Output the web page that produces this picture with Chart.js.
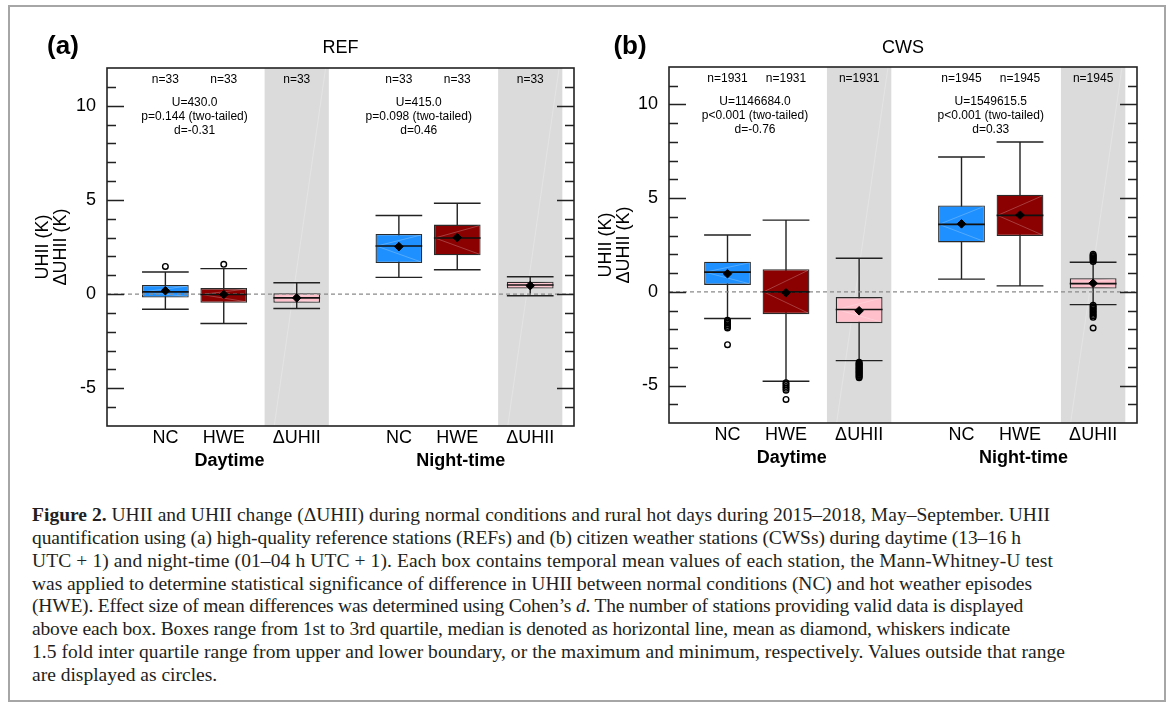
<!DOCTYPE html>
<html>
<head>
<meta charset="utf-8">
<script src="https://cdn.jsdelivr.net/npm/chart.js@4.4.1/dist/chart.umd.min.js"></script>
<style>
  html, body { margin: 0; padding: 0; background: #fff; }
  body { width: 1171px; height: 710px; position: relative; overflow: hidden; }
  #frame { position: absolute; left: 8px; top: 5px; width: 1158px; height: 697px; border: 2px solid #a6a6a6; box-sizing: border-box; pointer-events: none; }
  canvas { position: absolute; top: 0; }
  #ca { left: 0; }
  #cb { left: 585px; }
  #caption { position: absolute; left: 32px; top: 504px; font-family: "Liberation Serif", "Times New Roman", serif; font-size: 19.5px; line-height: 22.85px; color: #231f20; white-space: nowrap; }
  #caption span { display: block; width: max-content; }
</style>
</head>
<body>
<canvas id="ca" width="590" height="480"></canvas>
<canvas id="cb" width="586" height="480"></canvas>
<div id="caption">
  <span data-w="1018"><b>Figure 2.</b> UHII and UHII change (ΔUHII) during normal conditions and rural hot days during 2015–2018, May–September. UHII</span>
  <span data-w="989">quantification using (a) high-quality reference stations (REFs) and (b) citizen weather stations (CWSs) during daytime (13–16 h</span>
  <span data-w="1021">UTC + 1) and night-time (01–04 h UTC + 1). Each box contains temporal mean values of each station, the Mann-Whitney-U test</span>
  <span data-w="1000">was applied to determine statistical significance of difference in UHII between normal conditions (NC) and hot weather episodes</span>
  <span data-w="991">(HWE). Effect size of mean differences was determined using Cohen’s <i>d</i>. The number of stations providing valid data is displayed</span>
  <span data-w="978">above each box. Boxes range from 1st to 3rd quartile, median is denoted as horizontal line, mean as diamond, whiskers indicate</span>
  <span data-w="1033">1.5 fold inter quartile range from upper and lower boundary, or the maximum and minimum, respectively. Values outside that range</span>
  <span>are displayed as circles.</span>
</div>
<div id="frame"></div>
<script>
// box positions on the x axis (0..8) and their labels
const positions  = [1, 2, 3.25, 5, 6, 7.25];
const categories = ['NC', 'HWE', 'ΔUHII', 'NC', 'HWE', 'ΔUHII'];
const boxColors  = ['#1e90ff', '#8b0000', '#ffc0cb', '#1e90ff', '#8b0000', '#ffc0cb'];
const bands      = [[2.7, 3.8], [6.7, 7.8]];
const groupNames = ['Daytime', 'Night-time'];
const groupX     = [2.1, 6.06];

// (a) REF
const refQ1     = [-0.18, -0.46, -0.46, 1.65, 2.06, 0.30];
const refQ3     = [0.48, 0.32, 0.05, 3.19, 3.69, 0.66];
const refMedian = [0.12, -0.02, -0.20, 2.55, 2.98, 0.48];
const refMean   = [0.18, -0.02, -0.20, 2.52, 3.00, 0.45];
const refLo     = [-0.80, -1.56, -0.76, 0.89, 1.29, -0.09];
const refHi     = [1.17, 1.35, 0.60, 4.17, 4.82, 0.92];
const refOutX   = [1, 2];
const refOutY   = [1.47, 1.58];
const refN      = ['n=33', 'n=33', 'n=33', 'n=33', 'n=33', 'n=33'];
const refStats  = [['U=430.0', 'p=0.144 (two-tailed)', 'd=-0.31'], ['U=415.0', 'p=0.098 (two-tailed)', 'd=0.46']];
const refStatsX = [1.5, 5.34];

// (b) CWS
const cwsQ1     = [0.37, -1.19, -1.67, 2.64, 2.98, 0.18];
const cwsQ3     = [1.61, 1.21, -0.28, 4.61, 5.18, 0.73];
const cwsMedian = [1.05, 0.00, -0.94, 3.60, 4.08, 0.44];
const cwsMean   = [0.97, -0.05, -1.01, 3.63, 4.10, 0.46];
const cwsLo     = [-1.42, -4.77, -3.67, 0.68, 0.32, -0.68];
const cwsHi     = [3.03, 3.83, 1.79, 7.20, 8.00, 1.58];
const cwsOutX   = [1, 1, 1, 1, 1, 1, 1,
                   2, 2, 2, 2, 2, 2,
                   3.25, 3.25, 3.25, 3.25, 3.25, 3.25, 3.25, 3.25, 3.25, 3.25, 3.25, 3.25, 3.25, 3.25, 3.25, 3.25, 3.25,
                   7.25, 7.25, 7.25, 7.25, 7.25, 7.25, 7.25,
                   7.25, 7.25, 7.25, 7.25, 7.25, 7.25, 7.25, 7.25, 7.25, 7.25];
const cwsOutY   = [-1.52, -1.60, -1.68, -1.76, -1.85, -1.93, -2.82,
                   -4.85, -4.95, -5.05, -5.15, -5.25, -5.74,
                   -3.76, -3.81, -3.86, -3.91, -3.96, -4.01, -4.06, -4.11, -4.16, -4.21, -4.26, -4.31, -4.36, -4.42, -4.47, -4.53, -4.59,
                   1.62, 1.70, 1.76, 1.82, 1.88, 1.94, 2.01,
                   -0.72, -0.80, -0.88, -0.96, -1.04, -1.12, -1.20, -1.28, -1.36, -1.93];
const cwsN      = ['n=1931', 'n=1931', 'n=1931', 'n=1945', 'n=1945', 'n=1945'];
const cwsStats  = [['U=1146684.0', 'p<0.001 (two-tailed)', 'd=-0.76'], ['U=1549615.5', 'p<0.001 (two-tailed)', 'd=0.33']];
const cwsStatsX = [1.47, 5.5];

const yMin = -7, yMax = 12;
const SANS = '"Liberation Sans", Arial, Helvetica, sans-serif';

function makePanel(id, p) {
  const parts = {
    id: 'boxParts',
    beforeDatasetsDraw(chart) {
      const { ctx, chartArea: a, scales: { x, y } } = chart;
      ctx.save();
      bands.forEach(b => {
        const x0 = x.getPixelForValue(b[0]), x1 = x.getPixelForValue(b[1]);
        ctx.fillStyle = '#dbdbdb';
        ctx.fillRect(x0, a.top, x1 - x0, a.bottom - a.top);
        ctx.strokeStyle = 'rgba(255,255,255,0.3)';
        ctx.lineWidth = 0.8;
        ctx.beginPath();
        ctx.moveTo(x0 + (x1 - x0) * 0.15, a.bottom);
        ctx.lineTo(x1 - (x1 - x0) * 0.05, a.top);
        ctx.stroke();
      });
      // whiskers and caps
      const bars = chart.getDatasetMeta(0).data;
      ctx.strokeStyle = '#222';
      ctx.lineWidth = 1.4;
      bars.forEach((bar, i) => {
        const hw = bar.width / 2;
        const yl = y.getPixelForValue(p.lo[i]), yh = y.getPixelForValue(p.hi[i]);
        ctx.beginPath();
        ctx.moveTo(bar.x, yl); ctx.lineTo(bar.x, yh);
        ctx.moveTo(bar.x - hw, yl); ctx.lineTo(bar.x + hw, yl);
        ctx.moveTo(bar.x - hw, yh); ctx.lineTo(bar.x + hw, yh);
        ctx.stroke();
      });
      ctx.restore();
    },
    afterDatasetDraw(chart, args) {
      if (args.index !== 0) return;
      const { ctx, chartArea: a, scales: { y } } = chart;
      const bars = chart.getDatasetMeta(0).data;
      ctx.save();
      // faint diagonals inside boxes
      ctx.strokeStyle = 'rgba(255,255,255,0.3)';
      ctx.lineWidth = 0.8;
      bars.forEach((bar, i) => {
        const hw = bar.width / 2 - 1;
        const ym = y.getPixelForValue(p.median[i]);
        ctx.beginPath();
        ctx.moveTo(bar.x - hw, ym); ctx.lineTo(bar.x + hw, y.getPixelForValue(p.q3[i]) + 1);
        ctx.moveTo(bar.x - hw, ym); ctx.lineTo(bar.x + hw, y.getPixelForValue(p.q1[i]) - 1);
        ctx.stroke();
      });
      // zero line
      const y0 = y.getPixelForValue(0);
      ctx.strokeStyle = '#8a8a8a';
      ctx.lineWidth = 1.2;
      ctx.setLineDash([4, 3]);
      ctx.beginPath(); ctx.moveTo(a.left, y0); ctx.lineTo(a.right, y0); ctx.stroke();
      ctx.setLineDash([]);
      // medians
      ctx.strokeStyle = '#111';
      ctx.lineWidth = 1.6;
      bars.forEach((bar, i) => {
        const ym = y.getPixelForValue(p.median[i]);
        ctx.beginPath(); ctx.moveTo(bar.x - bar.width / 2, ym); ctx.lineTo(bar.x + bar.width / 2, ym); ctx.stroke();
      });
      ctx.restore();
    },
    afterDraw(chart) {
      const { ctx, chartArea: a, scales: { x, y } } = chart;
      ctx.save();
      // frame and inward ticks
      ctx.strokeStyle = '#222';
      ctx.lineWidth = 1.6;
      ctx.strokeRect(a.left, a.top, a.right - a.left, a.bottom - a.top);
      ctx.lineWidth = 1.4;
      ctx.beginPath();
      for (let v = yMin + 1; v < yMax; v++) {
        const yp = Math.round(y.getPixelForValue(v)) + 0.5;
        const len = v % 5 === 0 ? 17 : 9;
        ctx.moveTo(a.left, yp); ctx.lineTo(a.left + len, yp);
        ctx.moveTo(a.right, yp); ctx.lineTo(a.right - len, yp);
      }
      ctx.stroke();
      ctx.fillStyle = '#000';
      ctx.textAlign = 'center';
      ctx.textBaseline = 'middle';
      // n labels
      ctx.font = '12px ' + SANS;
      positions.forEach((v, i) => ctx.fillText(p.n[i], x.getPixelForValue(v), a.top + 12));
      // test statistics
      p.stats.forEach((lines, k) => {
        lines.forEach((t, j) => ctx.fillText(t, x.getPixelForValue(p.statsX[k]), a.top + 35 + j * 14));
      });
      // group labels
      ctx.font = 'bold 18px ' + SANS;
      groupNames.forEach((g, i) => ctx.fillText(g, x.getPixelForValue(groupX[i]), a.bottom + 35));
      // panel titles
      ctx.font = 'bold 26px ' + SANS;
      ctx.fillText(p.tag, p.tagX, 47);
      ctx.font = '18px ' + SANS;
      ctx.fillText(p.title, (a.left + a.right) / 2, 48);
      // y axis title
      ctx.translate(p.titleX, (a.top + a.bottom) / 2);
      ctx.rotate(-Math.PI / 2);
      ctx.fillText('UHII (K)', 0, -9);
      ctx.fillText('ΔUHII (K)', 0, 9);
      ctx.restore();
    }
  };

  return new Chart(document.getElementById(id), {
    type: 'bar',
    data: {
      datasets: [
        {
          type: 'bar', order: 3,
          data: positions.map((v, i) => ({ x: v, y: [p.q1[i], p.q3[i]] })),
          backgroundColor: boxColors,
          borderColor: '#2a2a2a', borderWidth: 1.3, borderSkipped: false,
          barPercentage: 0.8, categoryPercentage: 1
        },
        {
          type: 'scatter', order: 2,
          data: p.outX.map((v, i) => ({ x: v, y: p.outY[i] })),
          pointStyle: 'circle', pointRadius: 2.8, borderWidth: 1.4,
          borderColor: '#000', backgroundColor: 'rgba(0,0,0,0)'
        },
        {
          type: 'scatter', order: 1,
          data: positions.map((v, i) => ({ x: v, y: p.mean[i] })),
          pointStyle: 'rectRot', pointRadius: 4.3, borderWidth: 1,
          borderColor: '#000', backgroundColor: '#000'
        }
      ]
    },
    options: {
      responsive: false,
      animation: false,
      events: [],
      layout: { padding: { top: p.top, right: p.right, left: 0, bottom: 0 } },
      plugins: { legend: { display: false }, tooltip: { enabled: false } },
      scales: {
        x: {
          type: 'linear', min: 0, max: 8, offset: false,
          grid: { display: false, offset: false }, border: { display: false },
          afterBuildTicks: s => { s.ticks = positions.map(v => ({ value: v })); },
          afterFit: s => { s.height = p.bottom; },
          ticks: {
            autoSkip: false, maxRotation: 0, padding: -7,
            color: '#000', font: { family: SANS, size: 18 },
            callback: (v, i) => categories[i]
          }
        },
        y: {
          type: 'linear', min: yMin, max: yMax,
          grid: { display: false }, border: { display: false },
          afterFit: s => { s.width = p.left; },
          ticks: {
            stepSize: 1, padding: 3, autoSkip: false,
            color: '#000', font: { family: SANS, size: 18 },
            callback: v => (v % 5 === 0 ? String(v) : '')
          }
        }
      }
    },
    plugins: [parts]
  });
}

makePanel('ca', {
  q1: refQ1, q3: refQ3, median: refMedian, mean: refMean, lo: refLo, hi: refHi,
  outX: refOutX, outY: refOutY, n: refN, stats: refStats, statsX: refStatsX,
  tag: '(a)', tagX: 63, title: 'REF', titleX: 52,
  left: 107, top: 68, right: 16, bottom: 54
});
makePanel('cb', {
  q1: cwsQ1, q3: cwsQ3, median: cwsMedian, mean: cwsMean, lo: cwsLo, hi: cwsHi,
  outX: cwsOutX, outY: cwsOutY, n: cwsN, stats: cwsStats, statsX: cwsStatsX,
  tag: '(b)', tagX: 45, title: 'CWS', titleX: 30,
  left: 84, top: 67, right: 34, bottom: 57
});

// stretch caption lines to the widths of the printed lines
document.querySelectorAll('#caption span[data-w]').forEach(s => {
  const target = +s.dataset.w;
  const w = s.getBoundingClientRect().width;
  const chars = s.textContent.length;
  s.style.letterSpacing = ((target - w) / chars) + 'px';
});
</script>
</body>
</html>
